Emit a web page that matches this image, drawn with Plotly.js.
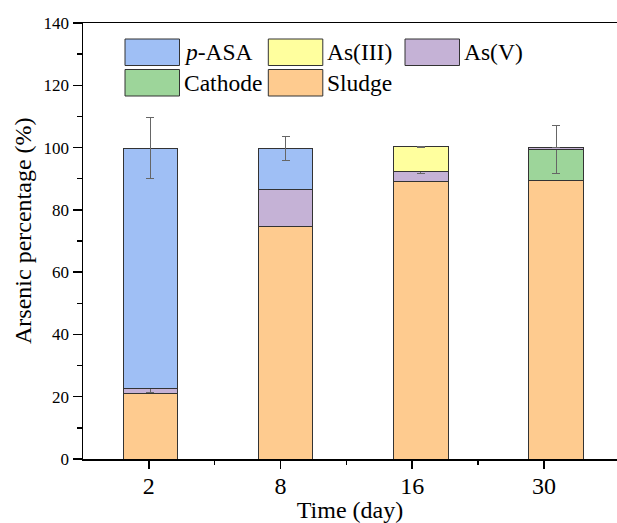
<!DOCTYPE html>
<html>
<head>
<meta charset="utf-8">
<script src="https://cdn.plot.ly/plotly-3.0.1.min.js"></script>
<style>html,body{margin:0;padding:0;background:#fff;}#chart{width:617px;height:523px;}</style>
</head>
<body>
<div id="chart"></div>
<script>
// ---- data ----
const days = ['2', '8', '16', '30'];
const sludge  = [20.9, 74.5, 89.1, 89.3];
const cathode = [null, null, null, 10.2];
const asV     = [1.6, 12.1, 3.2, 0.5];
const asIII   = [null, null, 7.9, null];
const pASA    = [77.3, 13.2, null, null];

const errSludge  = [0, 0, 0, 0];
const errCathode = [0, 0, 0, 7.7];
const errAsV     = [1.0, 0.2, 0.6, 0];
const errAsIII   = [0, 0, 0.2, 0];
const errPASA    = [9.7, 3.8, 0, 0];

const seriesNames = ['Sludge', 'Cathode', 'As(V)', 'As(III)', 'p-ASA'];
const seriesLabels = ['Sludge', 'Cathode', 'As(V)', 'As(III)', '<i>p</i>-ASA'];
const seriesColors = ['#fecb8f', '#9dd59a', '#c5b2d6', '#ffff9e', '#9fbff5'];
const seriesValues = [sludge, cathode, asV, asIII, pASA];
const seriesErrors = [errSludge, errCathode, errAsV, errAsIII, errPASA];

const FONT = "'Liberation Serif', 'Times New Roman', Tinos, serif";

// ---- traces ----
const traces = seriesNames.map((nm, i) => ({
  type: 'bar',
  name: nm,
  x: days,
  y: seriesValues[i],
  marker: {color: seriesColors[i], line: {color: '#333333', width: 1}},
  error_y: {type: 'data', array: seriesErrors[i], visible: true, color: '#666666', thickness: 1, width: 4},
  showlegend: false,
  hoverinfo: 'skip'
}));
// invisible helper trace so that the tick axis is drawn
traces.push({type: 'scatter', mode: 'markers', x: days.map((d, i) => i), y: days.map(() => null),
  xaxis: 'x2', yaxis: 'y', showlegend: false, hoverinfo: 'skip'});

// ---- custom legend (pixel layout) ----
const L = 83, R = 617, T = 23, B = 459;
const px = v => (v - L) / (R - L);
const py = v => (B - v) / (B - T);
const legendSlots = {
  'p-ASA':   [125, 39],
  'As(III)': [268.3, 39],
  'As(V)':   [405, 39],
  'Cathode': [125, 69.5],
  'Sludge':  [268.3, 69.5]
};
const swW = 54.5, swH = 26.5;
const shapes = [], annotations = [];
seriesNames.forEach((nm, i) => {
  const [x0, y0] = legendSlots[nm];
  shapes.push({type: 'rect', xref: 'paper', yref: 'paper',
    x0: px(x0), x1: px(x0 + swW), y0: py(y0 + swH), y1: py(y0),
    fillcolor: seriesColors[i], line: {color: '#333333', width: 1}});
  annotations.push({xref: 'paper', yref: 'paper', x: px(x0 + swW + 2), y: py(y0 + swH / 2),
    xanchor: 'left', yanchor: 'middle', showarrow: false, text: seriesLabels[i],
    font: {family: FONT, size: 23.5, color: '#000'}});
});
// y-axis title placed as text
annotations.push({xref: 'paper', yref: 'paper', x: px(23), y: py(231), xanchor: 'center', yanchor: 'middle',
  showarrow: false, textangle: -90, text: 'Arsenic percentage (%)',
  font: {family: FONT, size: 24, color: '#000'}});

const layout = {
  width: 617, height: 523,
  margin: {l: L, r: 617 - R, t: T, b: 523 - B, pad: 0},
  paper_bgcolor: '#fff', plot_bgcolor: '#fff',
  barmode: 'stack', bargap: 0.598,
  showlegend: false,
  font: {family: FONT, color: '#000'},
  xaxis: {type: 'category', range: [-0.499, 3.45], visible: false, fixedrange: true},
  xaxis2: {overlaying: 'x', anchor: 'y', side: 'bottom', type: 'linear',
    range: [-0.5, 3.555], tickmode: 'array', tickvals: [0, 1, 2, 3], ticktext: days,
    ticks: 'outside', ticklen: 8, tickwidth: 1.5, tickcolor: '#000', ticklabelstandoff: -3,
    minor: {tickmode: 'array', tickvals: [0.5, 1.5, 2.5], ticks: 'outside', ticklen: 4, tickwidth: 1.5, tickcolor: '#000', showgrid: false},
    showline: true, linecolor: '#000', linewidth: 1.5, mirror: true,
    showgrid: false, zeroline: false,
    tickfont: {family: FONT, size: 24, color: '#000'},
    title: {text: 'Time (day)', font: {family: FONT, size: 24, color: '#000'}, standoff: 2}},
  yaxis: {range: [0, 140], tickmode: 'linear', tick0: 0, dtick: 20,
    ticks: 'outside', ticklen: 9, tickwidth: 1.5, tickcolor: '#000',
    minor: {dtick: 10, ticks: 'outside', ticklen: 5, tickwidth: 1.5, tickcolor: '#000', showgrid: false},
    showline: true, linecolor: '#000', linewidth: 1.5,
    showgrid: false, zeroline: false,
    tickfont: {family: FONT, size: 17, color: '#000'}},
  shapes: shapes,
  annotations: annotations
};

Plotly.newPlot('chart', traces, layout, {displayModeBar: false, staticPlot: true});
</script>
</body>
</html>
